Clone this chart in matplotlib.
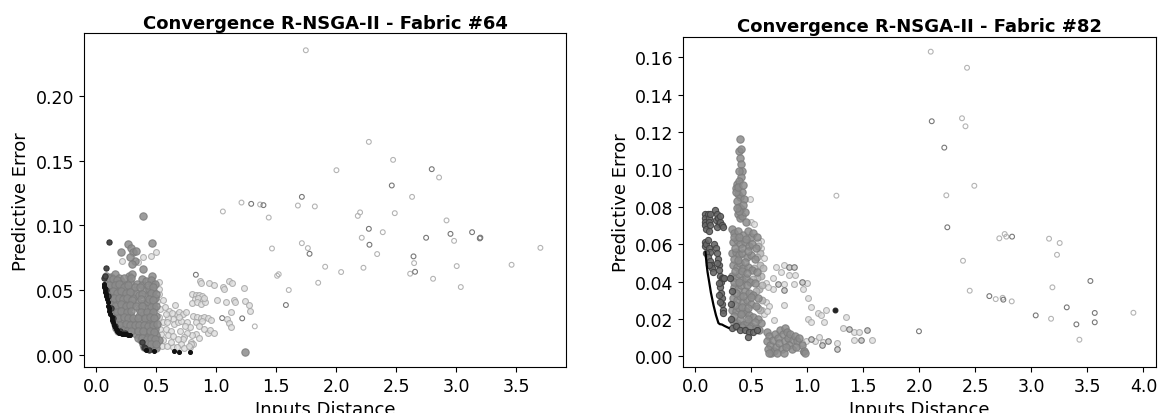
import numpy as np
import matplotlib.pyplot as plt

plt.rcParams['font.family'] = ['DejaVu Sans']

# ---------------- Fabric #64 ----------------
# early generations, far from the reference point (light rings)
f64_far_light = [
    (1.746, 0.2353), (2.271, 0.1645), (2.473, 0.1506), (2.856, 0.1370), (2.001, 0.1426),
    (2.631, 0.1220), (1.821, 0.1146), (1.680, 0.1153), (2.198, 0.1100), (2.179, 0.1073),
    (2.487, 0.1094), (2.918, 0.1038), (2.387, 0.0947), (2.212, 0.0904), (2.981, 0.0880),
    (2.340, 0.0778), (2.648, 0.0708), (3.003, 0.0685), (2.806, 0.0587), (2.615, 0.0626),
    (3.037, 0.0523), (1.763, 0.0824), (1.713, 0.0862), (1.907, 0.0680), (2.040, 0.0639),
    (2.226, 0.0672), (1.849, 0.0556), (1.055, 0.1107), (1.210, 0.1176), (1.365, 0.1161),
    (1.437, 0.1060), (1.464, 0.0821), (1.507, 0.0610), (1.520, 0.0622), (1.604, 0.0500),
    (1.321, 0.0219), (3.460, 0.0695), (3.700, 0.0826),
]
f64_far_dark = [
    (2.795, 0.1434), (2.462, 0.1308), (1.713, 0.1220), (1.291, 0.1166), (1.393, 0.1156),
    (2.271, 0.0973), (2.276, 0.0850), (2.748, 0.0904), (2.951, 0.0934), (3.131, 0.0947),
    (3.195, 0.0899), (3.200, 0.0905), (2.643, 0.0760), (2.656, 0.0641), (1.777, 0.0780),
    (1.580, 0.0384), (0.830, 0.0618), (1.049, 0.0283), (1.216, 0.0281),
]
# intermediate generations
f64_mid_light = [
    (0.863, 0.0571), (0.869, 0.0553), (0.941, 0.0553), (0.983, 0.0541), (1.058, 0.0520),
    (1.066, 0.0507), (1.108, 0.0571), (1.127, 0.0553), (1.232, 0.0513),
    (0.800, 0.0470), (0.830, 0.0465), (0.860, 0.0460), (0.880, 0.0450), (0.820, 0.0430),
    (0.850, 0.0435), (0.890, 0.0420), (0.800, 0.0400), (0.840, 0.0410), (0.870, 0.0390),
    (0.910, 0.0410), (0.900, 0.0440), (1.008, 0.0425), (1.080, 0.0409), (1.149, 0.0425),
    (1.155, 0.0405), (1.241, 0.0412), (1.269, 0.0384), (1.280, 0.0335), (1.122, 0.0327),
    (1.091, 0.0276), (1.108, 0.0242), (1.122, 0.0212),
    (0.810, 0.0300), (0.840, 0.0290), (0.870, 0.0285), (0.900, 0.0290), (0.930, 0.0280),
    (0.960, 0.0270), (0.880, 0.0260), (0.830, 0.0250), (0.860, 0.0220), (0.900, 0.0200),
    (0.930, 0.0170), (0.830, 0.0160), (0.860, 0.0130), (0.800, 0.0150), (0.950, 0.0190),
    (0.980, 0.0165), (0.790, 0.0100), (0.810, 0.0085), (0.780, 0.0060),
    (0.660, 0.0384), (0.670, 0.0314), (0.690, 0.0327), (0.720, 0.0314), (0.750, 0.0327),
    (0.640, 0.0275), (0.650, 0.0237), (0.680, 0.0250), (0.710, 0.0263), (0.600, 0.0283),
    (0.610, 0.0340), (0.580, 0.0314), (0.560, 0.0255), (0.580, 0.0198), (0.620, 0.0180),
    (0.600, 0.0152), (0.640, 0.0147), (0.540, 0.0160), (0.535, 0.0198), (0.510, 0.0229),
    (0.520, 0.0288), (0.535, 0.0353), (0.510, 0.0417), (0.520, 0.0468), (0.520, 0.0507),
    (0.520, 0.0559), (0.760, 0.0255), (0.780, 0.0211), (0.755, 0.0170), (0.730, 0.0139),
    (0.720, 0.0121), (0.710, 0.0082), (0.790, 0.0082), (0.500, 0.0057), (0.545, 0.0064),
    (0.590, 0.0070), (0.640, 0.0057), (0.670, 0.0057), (0.730, 0.0049), (0.770, 0.0070),
    (0.217, 0.0726), (0.345, 0.0713), (0.391, 0.0752), (0.455, 0.0760), (0.497, 0.0791),
    (0.560, 0.0420), (0.570, 0.0370), (0.590, 0.0250), (0.630, 0.0320), (0.700, 0.0180),
    (0.690, 0.0290), (0.740, 0.0220), (0.620, 0.0100), (0.560, 0.0110), (0.680, 0.0120),
]
f64_mid_gray = [
    (0.267, 0.0855), (0.289, 0.0821), (0.308, 0.0791), (0.322, 0.0726), (0.281, 0.0752),
    (0.206, 0.0791), (0.466, 0.0863), (0.391, 0.0662), (0.466, 0.0605), (0.466, 0.0546),
    (0.378, 0.0585), (0.386, 0.1073), (1.238, 0.0023), (0.300, 0.0700), (0.330, 0.0800),
    (0.085, 0.061), (0.120, 0.060), (0.155, 0.062), (0.190, 0.059), (0.270, 0.061), (0.300, 0.062),
    (0.100, 0.057), (0.140, 0.056), (0.170, 0.055), (0.210, 0.057), (0.245, 0.054), (0.285, 0.056),
    (0.340, 0.055), (0.385, 0.054), (0.415, 0.057), (0.455, 0.058), (0.490, 0.055),
    (0.095, 0.051), (0.125, 0.052), (0.160, 0.050), (0.190, 0.052), (0.225, 0.050), (0.260, 0.051),
    (0.300, 0.050), (0.335, 0.048), (0.400, 0.050), (0.440, 0.051), (0.475, 0.049),
    (0.110, 0.046), (0.145, 0.047), (0.175, 0.045), (0.210, 0.046), (0.240, 0.045), (0.275, 0.047),
    (0.310, 0.044), (0.360, 0.046), (0.420, 0.045), (0.455, 0.046), (0.490, 0.044),
    (0.120, 0.041), (0.155, 0.040), (0.190, 0.042), (0.225, 0.040), (0.260, 0.041), (0.295, 0.039),
    (0.345, 0.041), (0.400, 0.040), (0.435, 0.041), (0.470, 0.039),
    (0.130, 0.036), (0.165, 0.035), (0.200, 0.037), (0.235, 0.035), (0.270, 0.036), (0.360, 0.035),
    (0.410, 0.036), (0.445, 0.034), (0.480, 0.036),
    (0.140, 0.031), (0.175, 0.030), (0.210, 0.032), (0.245, 0.030), (0.280, 0.031), (0.355, 0.030),
    (0.390, 0.031), (0.425, 0.029), (0.460, 0.031), (0.495, 0.030),
    (0.150, 0.026), (0.185, 0.025), (0.220, 0.027), (0.255, 0.025), (0.290, 0.026), (0.330, 0.025),
    (0.370, 0.026), (0.405, 0.024), (0.440, 0.026), (0.475, 0.025),
    (0.165, 0.021), (0.200, 0.020), (0.235, 0.022), (0.270, 0.020), (0.305, 0.021), (0.345, 0.020),
    (0.385, 0.021), (0.420, 0.019), (0.455, 0.021), (0.490, 0.020),
    (0.330, 0.016), (0.365, 0.015), (0.400, 0.016), (0.435, 0.014), (0.470, 0.016), (0.500, 0.015),
    (0.375, 0.011), (0.410, 0.010), (0.445, 0.011), (0.480, 0.010), (0.520, 0.011),
    (0.395, 0.006), (0.430, 0.005), (0.465, 0.006), (0.500, 0.005),
    # second pass, between the rows above
    (0.105, 0.059), (0.140, 0.0585), (0.175, 0.058), (0.230, 0.059), (0.290, 0.0595),
    (0.110, 0.054), (0.155, 0.0535), (0.190, 0.0545), (0.230, 0.0525), (0.265, 0.0535),
    (0.320, 0.052), (0.365, 0.0525), (0.430, 0.054), (0.470, 0.0525),
    (0.105, 0.0485), (0.140, 0.049), (0.175, 0.048), (0.210, 0.049), (0.245, 0.048),
    (0.285, 0.0485), (0.385, 0.047), (0.460, 0.048), (0.500, 0.047),
    (0.115, 0.0435), (0.150, 0.0435), (0.190, 0.044), (0.225, 0.043), (0.260, 0.0435),
    (0.295, 0.0425), (0.375, 0.043), (0.440, 0.043), (0.475, 0.0425),
    (0.125, 0.0385), (0.160, 0.038), (0.210, 0.039), (0.245, 0.038), (0.280, 0.0385),
    (0.330, 0.038), (0.385, 0.038), (0.455, 0.037), (0.495, 0.038),
    (0.135, 0.0335), (0.170, 0.033), (0.205, 0.034), (0.255, 0.033), (0.290, 0.034),
    (0.375, 0.033), (0.420, 0.033), (0.470, 0.033),
    (0.145, 0.0285), (0.180, 0.028), (0.230, 0.029), (0.265, 0.028), (0.310, 0.028),
    (0.345, 0.028), (0.410, 0.028), (0.445, 0.029), (0.485, 0.028),
    (0.160, 0.0235), (0.195, 0.023), (0.245, 0.024), (0.280, 0.023), (0.320, 0.023),
    (0.355, 0.023), (0.395, 0.023), (0.430, 0.022), (0.470, 0.023), (0.505, 0.024),
    (0.185, 0.018), (0.220, 0.019), (0.255, 0.018), (0.290, 0.018), (0.350, 0.018),
    (0.390, 0.0185), (0.450, 0.018), (0.485, 0.0175),
    (0.345, 0.013), (0.385, 0.013), (0.420, 0.0125), (0.455, 0.013), (0.490, 0.0125),
    (0.390, 0.008), (0.425, 0.008), (0.460, 0.0085), (0.495, 0.008),
]
f64_dark = [
    (0.065, 0.059), (0.075, 0.061), (0.081, 0.0667), (0.108, 0.0868), (0.085, 0.050),
    (0.100, 0.045), (0.120, 0.036), (0.140, 0.028), (0.160, 0.022), (0.200, 0.018),
    (0.240, 0.017), (0.380, 0.010), (0.400, 0.006), (0.440, 0.004), (0.404, 0.0049),
]
# last generation
f64_final = [
    (0.064, 0.0545), (0.066, 0.0532), (0.068, 0.0520), (0.070, 0.0513), (0.072, 0.0507),
    (0.076, 0.0488), (0.080, 0.0470), (0.085, 0.0450), (0.090, 0.0430), (0.095, 0.0405),
    (0.100, 0.0379), (0.105, 0.0360), (0.110, 0.0340), (0.118, 0.0315), (0.128, 0.0289),
    (0.134, 0.0270), (0.140, 0.0250), (0.148, 0.0230), (0.156, 0.0211), (0.163, 0.0200),
    (0.170, 0.0190), (0.176, 0.0181), (0.183, 0.0173), (0.192, 0.0168), (0.200, 0.0165),
    (0.212, 0.0162), (0.225, 0.0160), (0.238, 0.0158), (0.250, 0.0157), (0.266, 0.0155),
    (0.281, 0.0152), (0.414, 0.0039), (0.480, 0.0031), (0.647, 0.0031), (0.692, 0.0023),
    (0.780, 0.0023),
]

# ---------------- Fabric #82 ----------------
f82_far_light = [
    (2.102, 0.1629), (2.426, 0.1543), (2.381, 0.1273), (2.412, 0.1230), (2.491, 0.0912),
    (2.241, 0.0861), (2.714, 0.0631), (2.762, 0.0654), (2.777, 0.0640), (3.158, 0.0629),
    (3.253, 0.0606), (3.229, 0.0543), (2.390, 0.0511), (3.188, 0.0369), (2.450, 0.0351),
    (2.682, 0.0306), (2.744, 0.0313), (2.825, 0.0294), (3.176, 0.0201), (3.429, 0.0089),
    (3.911, 0.0233), (1.260, 0.0859),
]
f82_far_dark = [
    (2.111, 0.1257), (2.223, 0.1116), (2.250, 0.0690), (2.828, 0.0640), (2.625, 0.0322),
    (2.750, 0.0303), (3.527, 0.0403), (3.316, 0.0262), (3.039, 0.0219), (3.402, 0.0171),
    (3.566, 0.0232), (3.566, 0.0182), (1.997, 0.0134),
]
f82_mid_light = [
    (0.616, 0.0524), (0.718, 0.0476), (0.792, 0.0488), (0.762, 0.0452), (0.696, 0.0419),
    (0.888, 0.0433), (0.836, 0.0435), (0.631, 0.0390), (0.792, 0.0387), (1.000, 0.0390),
    (0.696, 0.0360), (0.646, 0.0372), (0.881, 0.0387), (0.964, 0.0360), (1.004, 0.0310),
    (0.631, 0.0289), (0.661, 0.0271), (0.795, 0.0274), (1.036, 0.0265), (1.095, 0.0230),
    (1.125, 0.0222), (1.167, 0.0248), (1.345, 0.0212), (1.004, 0.0199), (1.033, 0.0185),
    (1.152, 0.0182), (0.705, 0.0194), (1.316, 0.0150), (1.420, 0.0132), (1.464, 0.0132),
    (1.417, 0.0089), (1.580, 0.0086), (1.265, 0.0069), (1.068, 0.0084), (1.107, 0.0102),
    (1.143, 0.0075), (0.988, 0.0084), (0.949, 0.0069), (0.929, 0.0047),
    (0.496, 0.0717), (0.526, 0.0708), (0.490, 0.0840), (0.585, 0.0617), (0.560, 0.0610),
    (0.590, 0.0580), (0.600, 0.0250), (0.615, 0.0225), (0.640, 0.0240),
]
f82_mid_dark = [
    (0.839, 0.0476), (0.881, 0.0479), (0.741, 0.0387), (0.955, 0.0396), (0.792, 0.0355),
    (1.375, 0.0144), (1.536, 0.0141), (1.482, 0.0089), (1.262, 0.0039), (1.033, 0.0093),
    (1.131, 0.0061), (1.187, 0.0084), (0.958, 0.0025),
]
f82_mid_gray = [
    # tall column
    (0.400, 0.1162), (0.390, 0.110), (0.410, 0.111), (0.400, 0.106), (0.405, 0.103),
    (0.420, 0.099), (0.410, 0.096), (0.370, 0.092), (0.390, 0.094), (0.360, 0.090),
    (0.380, 0.087), (0.400, 0.085), (0.420, 0.088), (0.435, 0.084), (0.370, 0.083),
    (0.390, 0.080), (0.410, 0.079), (0.430, 0.081), (0.380, 0.076), (0.400, 0.074),
    (0.420, 0.075), (0.440, 0.077), (0.450, 0.072), (0.365, 0.088), (0.385, 0.0905),
    (0.395, 0.0775), (0.375, 0.0795), (0.425, 0.0915), (0.395, 0.099),
    (0.330, 0.068), (0.350, 0.066), (0.380, 0.067), (0.430, 0.065), (0.470, 0.067),
    (0.500, 0.064), (0.520, 0.066), (0.550, 0.064),
    (0.340, 0.061), (0.370, 0.062), (0.400, 0.060), (0.440, 0.061), (0.480, 0.059),
    (0.510, 0.060), (0.540, 0.058),
    (0.330, 0.055), (0.360, 0.056), (0.390, 0.054), (0.420, 0.055), (0.460, 0.053),
    (0.500, 0.054), (0.530, 0.052),
    (0.340, 0.049), (0.370, 0.048), (0.400, 0.050), (0.430, 0.047), (0.470, 0.048),
    (0.510, 0.046), (0.550, 0.045),
    (0.330, 0.043), (0.360, 0.042), (0.390, 0.044), (0.420, 0.041), (0.450, 0.042),
    (0.490, 0.040), (0.530, 0.039),
    (0.350, 0.037), (0.380, 0.036), (0.410, 0.038), (0.440, 0.035), (0.480, 0.034),
    (0.520, 0.033), (0.560, 0.031),
    (0.340, 0.031), (0.370, 0.030), (0.400, 0.032), (0.430, 0.029), (0.460, 0.030),
    (0.500, 0.028), (0.540, 0.027),
    (0.330, 0.025), (0.360, 0.024), (0.390, 0.026), (0.420, 0.023), (0.450, 0.024),
    (0.480, 0.022), (0.520, 0.021), (0.560, 0.020), (0.590, 0.018),
    (0.340, 0.019), (0.370, 0.018), (0.400, 0.020), (0.430, 0.017), (0.460, 0.018),
    (0.500, 0.016), (0.540, 0.015), (0.570, 0.014),
    # second pass, between the rows above
    (0.345, 0.064), (0.395, 0.064), (0.455, 0.063), (0.355, 0.058), (0.415, 0.058),
    (0.470, 0.0565), (0.345, 0.052), (0.385, 0.0515), (0.445, 0.0505), (0.355, 0.0455),
    (0.415, 0.0455), (0.465, 0.0445), (0.345, 0.040), (0.395, 0.0395), (0.465, 0.038),
    (0.360, 0.034), (0.425, 0.0325), (0.500, 0.0315), (0.355, 0.0275), (0.415, 0.0265),
    (0.475, 0.026), (0.350, 0.0215), (0.410, 0.0225), (0.470, 0.020), (0.535, 0.0185),
    (0.360, 0.016), (0.420, 0.0155), (0.480, 0.015),
    # low cluster
    (0.640, 0.013), (0.660, 0.011), (0.645, 0.008), (0.670, 0.006), (0.650, 0.004),
    (0.680, 0.002), (0.700, 0.003), (0.660, 0.002), (0.720, 0.005), (0.690, 0.009),
    (0.710, 0.012), (0.740, 0.010), (0.760, 0.014), (0.780, 0.012), (0.800, 0.015),
    (0.820, 0.013), (0.750, 0.007), (0.770, 0.004), (0.800, 0.008), (0.830, 0.010),
    (0.850, 0.012), (0.870, 0.009), (0.840, 0.006), (0.860, 0.004), (0.890, 0.011),
    (0.910, 0.008), (0.930, 0.010), (0.950, 0.006), (0.970, 0.003), (0.980, 0.002),
    (0.900, 0.005), (0.730, 0.002), (0.790, 0.002), (0.810, 0.005),
]
# lighter points on the right flank of the column
f82_flank = [
    (0.560, 0.059), (0.580, 0.055), (0.550, 0.053), (0.575, 0.049), (0.590, 0.043),
    (0.570, 0.036), (0.600, 0.030), (0.580, 0.025), (0.555, 0.042), (0.595, 0.038),
    (0.525, 0.0475), (0.540, 0.035), (0.515, 0.0415), (0.605, 0.047), (0.560, 0.026),
]
f82_dark = [
    (0.085, 0.076), (0.085, 0.074), (0.090, 0.072), (0.090, 0.070), (0.095, 0.068),
    (0.110, 0.076), (0.120, 0.074), (0.125, 0.072), (0.130, 0.070), (0.125, 0.067),
    (0.130, 0.076),
    (0.180, 0.078), (0.190, 0.076), (0.185, 0.073), (0.200, 0.074), (0.210, 0.071),
    (0.190, 0.069), (0.220, 0.072), (0.240, 0.070), (0.250, 0.069), (0.225, 0.075),
    (0.085, 0.061), (0.090, 0.059), (0.100, 0.060), (0.110, 0.062), (0.120, 0.058),
    (0.130, 0.056), (0.100, 0.055), (0.115, 0.053), (0.130, 0.051), (0.140, 0.049),
    (0.150, 0.047), (0.160, 0.045), (0.120, 0.049),
    (0.170, 0.060), (0.185, 0.058), (0.190, 0.055), (0.200, 0.052), (0.210, 0.049),
    (0.190, 0.050), (0.215, 0.046), (0.220, 0.043), (0.230, 0.040), (0.240, 0.042),
    (0.250, 0.042), (0.225, 0.037), (0.230, 0.034), (0.235, 0.031), (0.240, 0.028),
    (0.245, 0.025), (0.250, 0.023), (0.220, 0.029), (0.215, 0.033), (0.210, 0.039),
    (0.260, 0.042), (0.310, 0.042),
    (0.330, 0.015), (0.360, 0.016), (0.400, 0.014), (0.440, 0.014), (0.480, 0.013),
    (0.520, 0.013), (0.550, 0.014), (0.320, 0.020), (0.320, 0.028), (0.330, 0.035),
    (0.470, 0.0102),
]
f82_final_x = [0.092, 0.100, 0.110, 0.125, 0.140, 0.164, 0.185, 0.207, 0.220, 0.239, 0.260, 0.298]
f82_final_y = [0.0557, 0.0500, 0.0450, 0.0396, 0.0340, 0.0271, 0.0220, 0.0178, 0.0172, 0.0170, 0.0163, 0.0152]
f82_best = [(1.247, 0.0249)]


def draw(ax, pts, face, edge, size, alpha=1.0, lw=0.8):
    arr = np.array(pts)
    ax.scatter(arr[:, 0], arr[:, 1], s=size, facecolors=face, edgecolors=edge,
               linewidths=lw, alpha=alpha)


fig = plt.figure(figsize=(11.6, 4.14), dpi=100)
ax1 = fig.add_axes([0.0724, 0.1111, 0.4155, 0.8060])
ax2 = fig.add_axes([0.5892, 0.1111, 0.4071, 0.7978])

# Fabric #64
draw(ax1, f64_far_light, 'none', '#b4b4b4', 12)
draw(ax1, f64_far_dark, 'none', '#787878', 12)
draw(ax1, f64_mid_light, '#dedede', '#a4a4a4', 18, alpha=0.8)
draw(ax1, f64_mid_gray, '#8c8c8c', '#7c7c7c', 28, alpha=0.85)
draw(ax1, f64_dark, '#4a4a4a', '#333333', 14)
draw(ax1, f64_final, '#111111', '#111111', 8)
ax1.set_xlim(-0.102, 3.913)
ax1.set_ylim(-0.0095, 0.2484)
ax1.set_yticks([0.0, 0.05, 0.10, 0.15, 0.20])

# Fabric #82
draw(ax2, f82_far_light, 'none', '#b4b4b4', 12)
draw(ax2, f82_far_dark, 'none', '#787878', 12)
draw(ax2, f82_mid_light, '#dedede', '#a4a4a4', 18, alpha=0.8)
draw(ax2, f82_mid_dark, '#c8c8c8', '#6e6e6e', 16, alpha=0.9)
draw(ax2, f82_flank, '#b4b4b4', '#999999', 24, alpha=0.85)
draw(ax2, f82_mid_gray, '#8c8c8c', '#7c7c7c', 28, alpha=0.85)
draw(ax2, f82_dark, '#686868', '#424242', 20, alpha=0.9)
ax2.plot(f82_final_x, f82_final_y, color='black', lw=1.6)
draw(ax2, f82_best, '#222222', '#222222', 12)
ax2.set_xlim(-0.105, 4.11)
ax2.set_ylim(-0.0057, 0.1709)

for ax, name in [(ax1, '64'), (ax2, '82')]:
    ax.set_title(f'Convergence R-NSGA-II - Fabric #{name}', fontsize=13,
                 fontweight='bold', pad=4)
    ax.set_xlabel('Inputs Distance', fontsize=13)
    ax.set_ylabel('Predictive Error', fontsize=13)
    ax.tick_params(labelsize=12.5)

fig.savefig('out.png', dpi=100)
